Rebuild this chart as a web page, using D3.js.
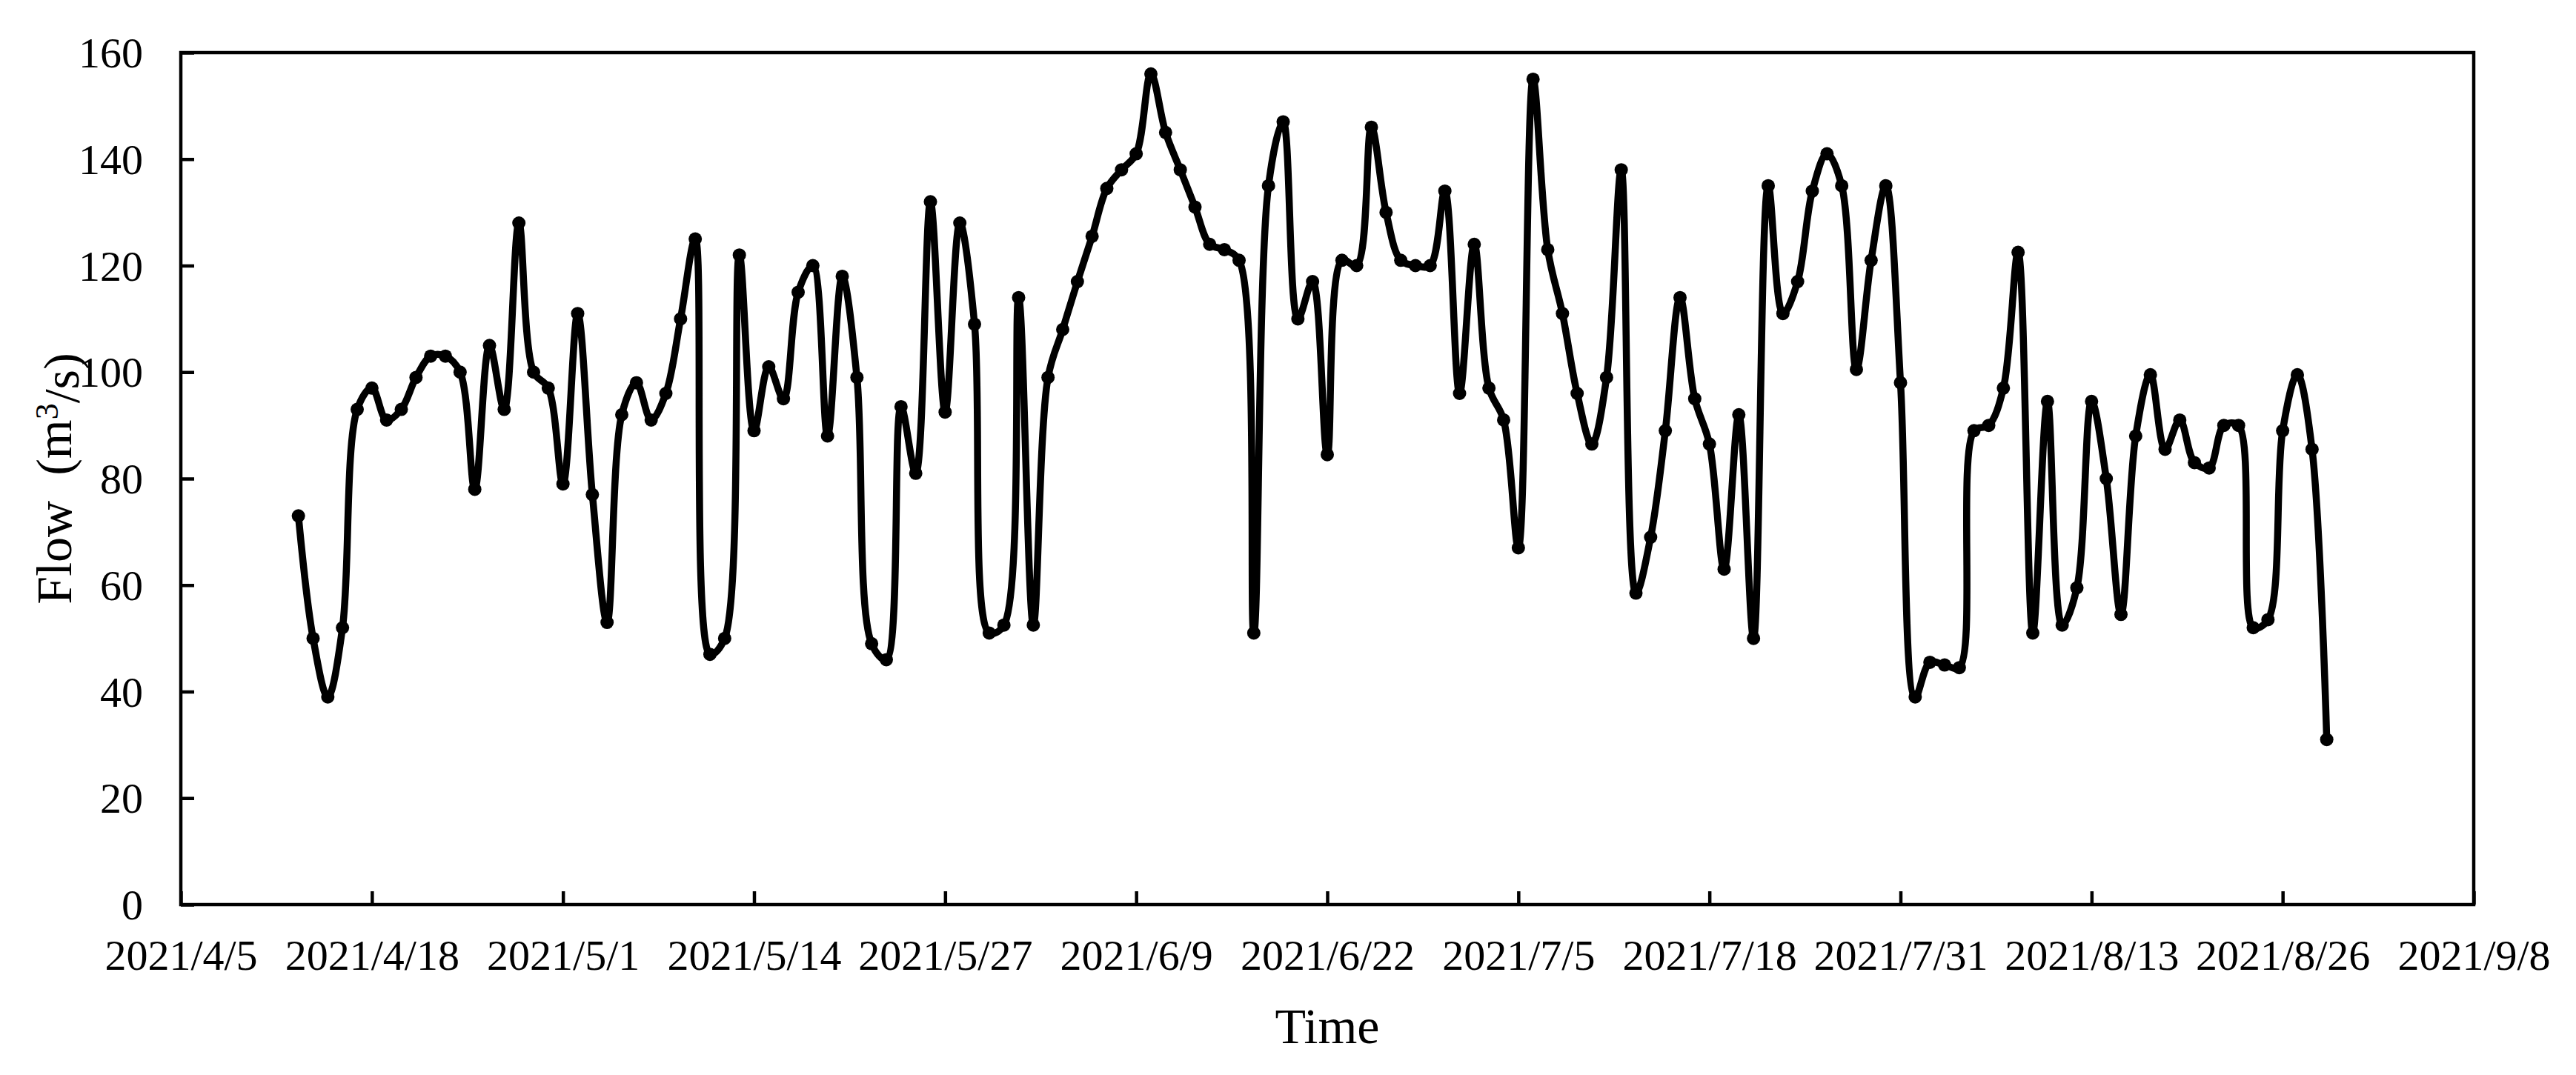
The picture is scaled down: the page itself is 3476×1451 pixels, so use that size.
<!DOCTYPE html>
<html>
<head>
<meta charset="utf-8">
<script src="https://cdn.jsdelivr.net/npm/d3@7"></script>
<style>
  html, body { margin: 0; padding: 0; background: #fff; }
  svg text { font-family: "Times New Roman", "Liberation Serif", serif; fill: #000; }
</style>
</head>
<body>
<svg id="chart" width="3476" height="1451"></svg>
<script>
// ---------------- DATA ----------------
const dates = [
  "2021-04-13","2021-04-14","2021-04-15","2021-04-16","2021-04-17","2021-04-18","2021-04-19","2021-04-20",
  "2021-04-21","2021-04-22","2021-04-23","2021-04-24","2021-04-25","2021-04-26","2021-04-27","2021-04-28",
  "2021-04-29","2021-04-30",
  "2021-05-01","2021-05-02","2021-05-03","2021-05-04","2021-05-05","2021-05-06","2021-05-07","2021-05-08",
  "2021-05-09","2021-05-10","2021-05-11","2021-05-12","2021-05-13","2021-05-14","2021-05-15","2021-05-16",
  "2021-05-17","2021-05-18","2021-05-19","2021-05-20","2021-05-21","2021-05-22","2021-05-23","2021-05-24",
  "2021-05-25","2021-05-26","2021-05-27","2021-05-28","2021-05-29","2021-05-30","2021-05-31",
  "2021-06-01","2021-06-02","2021-06-03","2021-06-04","2021-06-05","2021-06-06","2021-06-07","2021-06-08",
  "2021-06-09","2021-06-10","2021-06-11","2021-06-12","2021-06-13","2021-06-14","2021-06-15","2021-06-16",
  "2021-06-17","2021-06-18","2021-06-19","2021-06-20","2021-06-21","2021-06-22","2021-06-23","2021-06-24",
  "2021-06-25","2021-06-26","2021-06-27","2021-06-28","2021-06-29","2021-06-30",
  "2021-07-01","2021-07-02","2021-07-03","2021-07-04","2021-07-05","2021-07-06","2021-07-07","2021-07-08",
  "2021-07-09","2021-07-10","2021-07-11","2021-07-12","2021-07-13","2021-07-14","2021-07-15","2021-07-16",
  "2021-07-17","2021-07-18","2021-07-19","2021-07-20","2021-07-21","2021-07-22","2021-07-23","2021-07-24",
  "2021-07-25","2021-07-26","2021-07-27","2021-07-28","2021-07-29","2021-07-30","2021-07-31",
  "2021-08-01","2021-08-02","2021-08-03","2021-08-04","2021-08-05","2021-08-06","2021-08-07","2021-08-08",
  "2021-08-09","2021-08-10","2021-08-11","2021-08-12","2021-08-13","2021-08-14","2021-08-15","2021-08-16",
  "2021-08-17","2021-08-18","2021-08-19","2021-08-20","2021-08-21","2021-08-22","2021-08-23","2021-08-24",
  "2021-08-25","2021-08-26","2021-08-27","2021-08-28","2021-08-29"
];

const flow = [
  73, 50, 39, 52, 93, 97, 91, 93,
  99, 103, 103, 100, 78, 105, 93, 128,
  100, 97,
  79, 111, 77, 53, 92, 98, 91, 96,
  110, 125, 47, 50, 122, 89, 101, 95,
  115, 120, 88, 118, 99, 49, 46, 93.5,
  81, 132, 92.5, 128, 109, 51, 52.5,
  114, 52.5, 99, 108, 117, 125.5, 134.5, 138,
  141, 156, 145, 138, 131, 124, 123, 121,
  51, 135, 147, 110, 117, 84.5, 121, 120,
  146, 130, 121, 120, 120, 134,
  96, 124, 97, 91, 67, 155, 123, 111,
  96, 86.5, 99, 138, 58.5, 69, 89, 114,
  95, 86.5, 63, 92, 50, 135, 111, 117,
  134, 141, 135, 100.5, 121, 135, 98,
  39, 45.5, 45, 44.5, 89, 90, 97, 122.5,
  51, 94.5, 52.5, 59.5, 94.5, 80, 54.5, 88,
  99.5, 85.5, 91, 83, 82, 90, 90, 52,
  53.5, 89, 99.5, 85.5, 31
];

const xTickLabels = ["2021/4/5","2021/4/18","2021/5/1","2021/5/14","2021/5/27","2021/6/9","2021/6/22",
                     "2021/7/5","2021/7/18","2021/7/31","2021/8/13","2021/8/26","2021/9/8"];
const yTickValues = [0, 20, 40, 60, 80, 100, 120, 140, 160];
const xTitle = "Time";

// ---------------- CHART ----------------
const svg = d3.select("#chart");
const margin = { left: 244, right: 3338, top: 71, bottom: 1221 };

const parseTick = d3.timeParse("%Y/%m/%d");
const parseDate = d3.timeParse("%Y-%m-%d");
const tickDates = xTickLabels.map(parseTick);

const x = d3.scaleTime()
  .domain([tickDates[0], tickDates[tickDates.length - 1]])
  .range([margin.left, margin.right]);
const y = d3.scaleLinear().domain([0, 160]).range([margin.bottom, margin.top]);

const data = dates.map((d, i) => ({ date: parseDate(d), value: flow[i] }));

const tickLen = 18;
const fontTick = 58;

// X axis (bottom), ticks inward
const xAxis = d3.axisBottom(x)
  .tickValues(tickDates)
  .tickSize(-tickLen)
  .tickSizeOuter(0)
  .tickPadding(0)
  .tickFormat((d, i) => xTickLabels[i]);
const gx = svg.append("g").attr("transform", `translate(0,${margin.bottom})`).call(xAxis);
gx.select(".domain").remove();
gx.selectAll(".tick line").attr("stroke", "#000").attr("stroke-width", 4.5);
gx.selectAll(".tick text")
  .attr("y", 88).attr("dy", null)
  .style("font-size", fontTick + "px")
  .style("font-family", '"Times New Roman", "Liberation Serif", serif');

// Y axis (left), ticks inward
const yAxis = d3.axisLeft(y)
  .tickValues(yTickValues)
  .tickSize(-tickLen)
  .tickSizeOuter(0)
  .tickPadding(0)
  .tickFormat(d3.format("d"));
const gy = svg.append("g").attr("transform", `translate(${margin.left},0)`).call(yAxis);
gy.select(".domain").remove();
gy.selectAll(".tick line").attr("stroke", "#000").attr("stroke-width", 4.5);
gy.selectAll(".tick text")
  .attr("x", -51).attr("dy", "0.34em")
  .style("font-size", fontTick + "px")
  .style("font-family", '"Times New Roman", "Liberation Serif", serif');

// Plot frame
svg.append("rect")
  .attr("x", margin.left).attr("y", margin.top)
  .attr("width", margin.right - margin.left)
  .attr("height", margin.bottom - margin.top)
  .attr("fill", "none").attr("stroke", "#000").attr("stroke-width", 4.5);

// Line
const line = d3.line()
  .x(d => x(d.date)).y(d => y(d.value))
  .curve(d3.curveCatmullRom.alpha(0.5));

svg.append("path")
  .datum(data)
  .attr("d", line)
  .attr("fill", "none")
  .attr("stroke", "#000")
  .attr("stroke-width", 9.5)
  .attr("stroke-linejoin", "round");

svg.append("g").selectAll("circle")
  .data(data).join("circle")
  .attr("cx", d => x(d.date)).attr("cy", d => y(d.value))
  .attr("r", 9).attr("fill", "#000");

// Axis titles
svg.append("text")
  .attr("x", (margin.left + margin.right) / 2).attr("y", 1408)
  .attr("text-anchor", "middle")
  .style("font-size", "68px")
  .text(xTitle);

const yTitle = svg.append("text")
  .attr("transform", `translate(96,${(margin.top + margin.bottom) / 2}) rotate(-90)`)
  .attr("text-anchor", "middle")
  .style("font-size", "68px")
  .attr("xml:space", "preserve");
yTitle.append("tspan").text("Flow\u00A0\u00A0(m");
yTitle.append("tspan").attr("dy", "-0.4em").style("font-size", "44px").text("3");
yTitle.append("tspan").attr("dy", "0.4em").text("/s)");
</script>
</body>
</html>
